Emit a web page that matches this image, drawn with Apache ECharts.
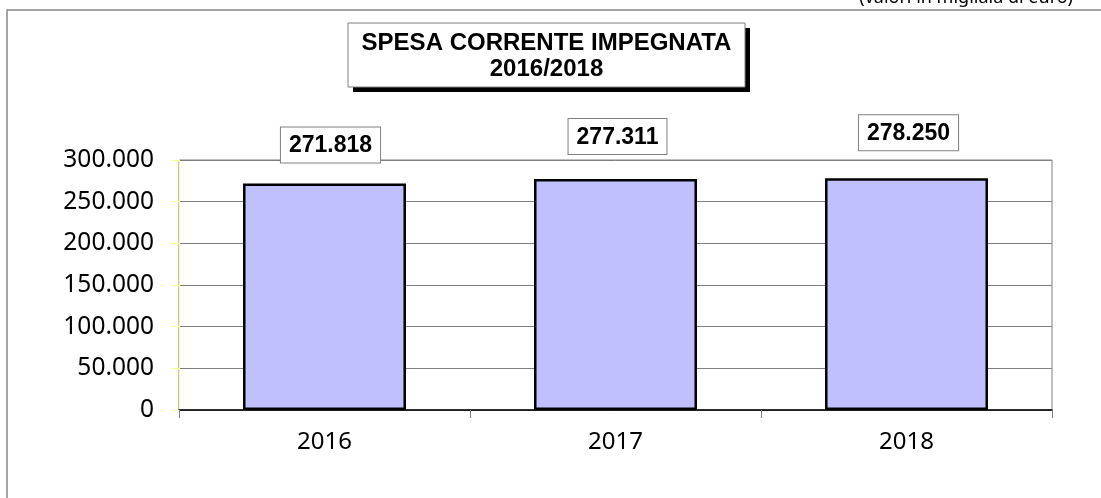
<!DOCTYPE html>
<html>
<head>
<meta charset="utf-8">
<script src="https://cdn.jsdelivr.net/npm/echarts@6/dist/echarts.min.js"></script>
<style>
html,body{margin:0;padding:0;background:#fff;}
#chart{width:1101px;height:498px;}
</style>
</head>
<body>
<div id="chart"></div>
<script>
const categories = ['2016', '2017', '2018'];
const values = [271818, 277311, 278250];
const yTicks = [0, 50000, 100000, 150000, 200000, 250000, 300000];
const titleLines = ['SPESA CORRENTE IMPEGNATA', '2016/2018'];
const unitNote = '(valori in migliaia di euro)';

// per-bar label placement (style only)
const labelDistance = [21, 25, 28];
const labelOffsetX = [6, 2, 2];

function fmt(v) {
  return String(Math.round(v)).replace(/\B(?=(\d{3})+(?!\d))/g, '.');
}

const chart = echarts.init(document.getElementById('chart'), null, {renderer: 'canvas'});

const option = {
  animation: false,
  backgroundColor: '#ffffff',
  grid: {
    left: 179, right: 49, top: 160, bottom: 88,
    show: true, borderColor: '#808080', borderWidth: 1, backgroundColor: 'transparent'
  },
  xAxis: {
    type: 'category',
    data: categories,
    axisLine: {show: true, lineStyle: {color: '#000000', width: 1.5}},
    axisTick: {show: true, length: 8, lineStyle: {color: '#808080'}},
    axisLabel: {color: '#000', fontFamily: 'Noto Sans', fontSize: 24, margin: 20},
    splitLine: {show: false}
  },
  yAxis: {
    type: 'value',
    min: yTicks[0],
    max: yTicks[yTicks.length - 1],
    interval: yTicks[1] - yTicks[0],
    axisLine: {show: true, lineStyle: {color: '#ffff99', width: 1}},
    axisTick: {show: true, length: 8, lineStyle: {color: '#ffff99'}},
    axisLabel: {color: '#000', fontFamily: 'Noto Sans', fontSize: 24.5, margin: 25, formatter: fmt},
    splitLine: {show: true, lineStyle: {color: '#808080', width: 1}}
  },
  series: [{
    type: 'bar',
    barWidth: '56%',
    data: values.map((v, i) => ({
      value: v,
      label: {distance: labelDistance[i], offset: [labelOffsetX[i], 0]}
    })),
    itemStyle: {color: '#c0c0ff', borderColor: '#000000', borderWidth: 2.5},
    label: {
      show: true,
      position: 'top',
      formatter: p => fmt(p.value),
      fontFamily: 'Liberation Sans',
      fontWeight: 'bold',
      fontSize: 23,
      color: '#000',
      backgroundColor: '#ffffff',
      borderColor: '#808080',
      borderWidth: 1,
      padding: [7, 8, 5, 8]
    }
  }],
  graphic: [
    {
      type: 'rect', silent: true, z: -10,
      shape: {x: 7, y: 10, width: 1300, height: 700},
      style: {fill: 'none', stroke: '#888888', lineWidth: 1.5}
    },
    {
      type: 'text', silent: true,
      x: 1073, y: 7,
      style: {text: unitNote, fontFamily: 'Noto Sans', fontSize: 18, fill: '#000', align: 'right', verticalAlign: 'bottom'}
    },
    {
      type: 'rect', silent: true, z: 50,
      shape: {x: 353, y: 28, width: 397, height: 64},
      style: {fill: '#000000'}
    },
    {
      type: 'rect', silent: true, z: 51,
      shape: {x: 348, y: 23, width: 397, height: 64},
      style: {fill: '#ffffff', stroke: '#808080', lineWidth: 1}
    },
    {
      type: 'text', silent: true, z: 52,
      x: 546.5, y: 43,
      style: {text: titleLines[0], fontFamily: 'Liberation Sans', fontWeight: 'bold', fontSize: 24, fill: '#000', align: 'center', verticalAlign: 'middle'}
    },
    {
      type: 'text', silent: true, z: 52,
      x: 546.5, y: 69.5,
      style: {text: titleLines[1], fontFamily: 'Liberation Sans', fontWeight: 'bold', fontSize: 24, fill: '#000', align: 'center', verticalAlign: 'middle'}
    }
  ]
};
chart.setOption(option);
</script>
</body>
</html>
